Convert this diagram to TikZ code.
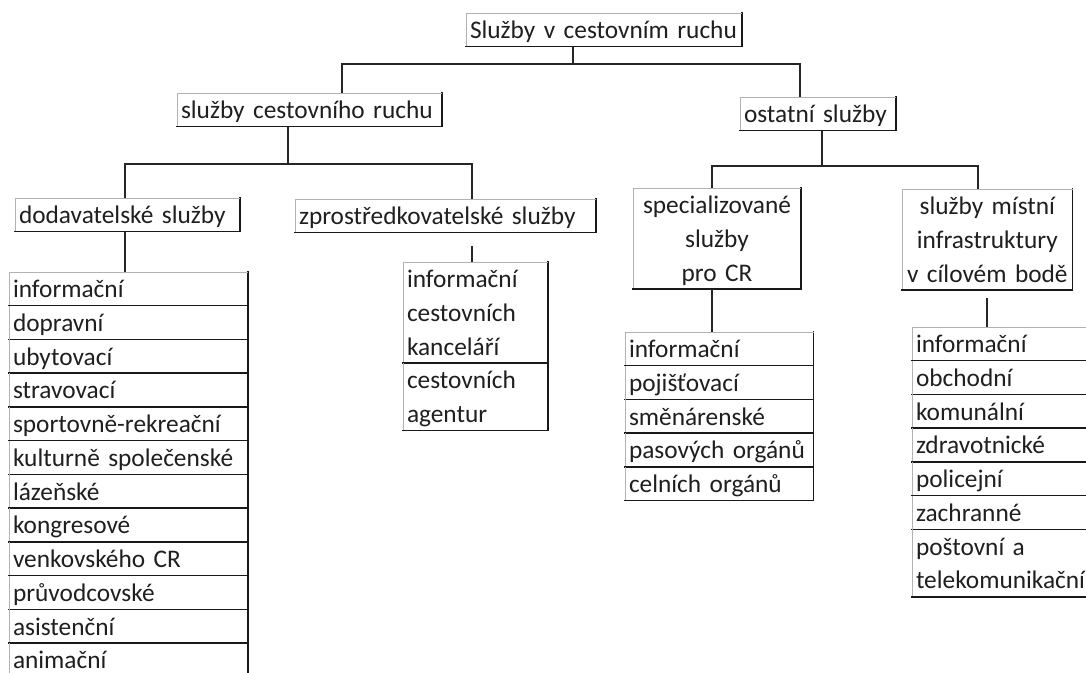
\documentclass[tikz,border=0pt]{standalone}
\usepackage{fontspec}
\setmainfont{Carlito}
\usetikzlibrary{positioning}
\newcommand\cellfont{\fontsize{19}{25.3}\selectfont}
\newcommand\cellstrut{\rule[-6pt]{0pt}{25.3pt}}

\tikzset{
  rim/.style={draw=black!90, line width=1.1pt, line cap=rect},
  pale/.style={draw=black!30, line width=0.6pt},
  link/.style={draw=black!85, line width=0.9pt},
  cell/.style={inner xsep=3pt, inner ysep=0pt, outer sep=0pt, align=left,
    font=\cellfont, text=black!88,
    execute at begin node=\cellstrut, execute at end node=\cellstrut,
    append after command={\pgfextra{\let\thisnode\tikzlastnode}
      (\thisnode.north west) edge[pale] (\thisnode.south west)
      (\thisnode.north east) edge[rim] (\thisnode.south east)
      (\thisnode.south east) edge[rim] (\thisnode.south west)}},
  box/.style={cell, anchor=north west,
    append after command={\pgfextra{\let\thisnode\tikzlastnode}
      (\thisnode.north west) edge[pale] (\thisnode.north east)}}
}

\begin{document}
\begin{tikzpicture}[x=0.75pt,y=-0.75pt]
  \useasboundingbox (0,0) rectangle (1086,673);
  \clip (0,0) rectangle (1086,673);
  \fill[white] (0,0) rectangle (1086,673);

  \node[box, text width=201pt] (root) at (466,13) {Služby v cestovním ruchu};
  \node[box, text width=192.75pt] (tourism) at (177,93) {služby cestovního ruchu};
  \node[box, text width=111pt] (other) at (740,97) {ostatní služby};

  \node[box, text width=162.75pt] (supplier) at (15,198) {dodavatelské služby};
  \node[box, text width=219.75pt] (broker) at (295,199) {zprostředkovatelské služby};
  \node[box, text width=120pt, align=center] (special) at (633,188) {specializované\\služby\\pro CR};
  \node[box, text width=122pt, align=center] (local) at (902,189) {služby místní\\infrastruktury\\v cílovém bodě};

  \node[box, text width=173.25pt] (sup1) at (9,272) {informační};
  \node[cell, text width=173.25pt, below=0pt of sup1] (sup2) {dopravní};
  \node[cell, text width=173.25pt, below=0pt of sup2] (sup3) {ubytovací};
  \node[cell, text width=173.25pt, below=0pt of sup3] (sup4) {stravovací};
  \node[cell, text width=173.25pt, below=0pt of sup4] (sup5) {sportovně-rekreační};
  \node[cell, text width=173.25pt, below=0pt of sup5] (sup6) {kulturně společenské};
  \node[cell, text width=173.25pt, below=0pt of sup6] (sup7) {lázeňské};
  \node[cell, text width=173.25pt, below=0pt of sup7] (sup8) {kongresové};
  \node[cell, text width=173.25pt, below=0pt of sup8] (sup9) {venkovského CR};
  \node[cell, text width=173.25pt, below=0pt of sup9] (sup10) {průvodcovské};
  \node[cell, text width=173.25pt, below=0pt of sup10] (sup11) {asistenční};
  \node[cell, text width=173.25pt, below=0pt of sup11] (sup12) {animační};

  \node[box, text width=102.75pt] (brk1) at (403,262) {informační\\cestovních\\kanceláří};
  \node[cell, text width=102.75pt, below=0pt of brk1] (brk2) {cestovních\\agentur};

  \node[box, text width=135.5pt] (spc1) at (625,332) {informační};
  \node[cell, text width=135.5pt, below=0pt of spc1] (spc2) {pojišťovací};
  \node[cell, text width=135.5pt, below=0pt of spc2] (spc3) {směnárenské};
  \node[cell, text width=135.5pt, below=0pt of spc3] (spc4) {pasových orgánů};
  \node[cell, text width=135.5pt, below=0pt of spc4] (spc5) {celních orgánů};

  \node[box, text width=134pt] (loc1) at (912,327) {informační};
  \node[cell, text width=134pt, below=0pt of loc1] (loc2) {obchodní};
  \node[cell, text width=134pt, below=0pt of loc2] (loc3) {komunální};
  \node[cell, text width=134pt, below=0pt of loc3] (loc4) {zdravotnické};
  \node[cell, text width=134pt, below=0pt of loc4] (loc5) {policejní};
  \node[cell, text width=134pt, below=0pt of loc5] (loc6) {zachranné};
  \node[cell, text width=134pt, below=0pt of loc6] (loc7) {poštovní a\\telekomunikační};

  \coordinate (busA) at (573,64);
  \coordinate (busAl) at (342,64);
  \coordinate (busAr) at (800,64);
  \draw[link] (root.south -| busA) -- (busA);
  \draw[link] (tourism.north -| busAl) |- (busAr) -- (other.north -| busAr);

  \coordinate (busB) at (288,164);
  \coordinate (busBl) at (125,164);
  \coordinate (busBr) at (472,164);
  \draw[link] (tourism.south -| busB) -- (busB);
  \draw[link] (supplier.north -| busBl) |- (busBr) -- (broker.north -| busBr);
  \draw[link] (supplier.south -| busBl) -- (sup1.north -| busBl);
  \draw[link, shorten <=9.75pt] (broker.south -| busBr) -- (brk1.north -| busBr);

  \coordinate (busC) at (822,166);
  \coordinate (busCl) at (712,166);
  \coordinate (busCr) at (978,166);
  \coordinate (locdrop) at (987,0);
  \draw[link] (other.south -| busC) -- (busC);
  \draw[link] (special.north -| busCl) |- (busCr) -- (local.north -| busCr);
  \draw[link] (special.south -| busCl) -- (spc1.north -| busCl);
  \draw[link, shorten <=6pt] (local.south -| locdrop) -- (loc1.north -| locdrop);
\end{tikzpicture}
\end{document}
